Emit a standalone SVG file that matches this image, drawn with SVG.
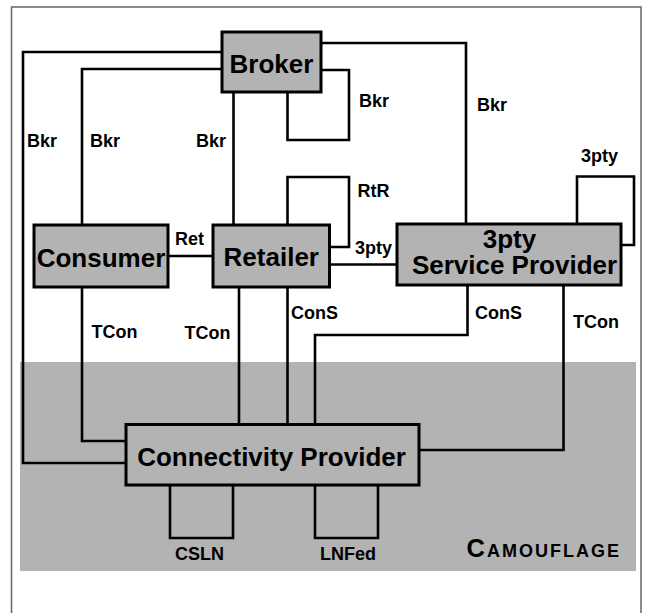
<svg xmlns="http://www.w3.org/2000/svg" width="645" height="613" viewBox="0 0 645 613">
<style>
.frame{fill:none;stroke:#666;stroke-width:1.5}
.band{fill:#b3b3b3}
.box{fill:#b3b3b3;stroke:#000;stroke-width:3}
.ln{fill:none;stroke:#000;stroke-width:2.6;stroke-linejoin:miter}
.nt{font-family:"Liberation Sans",Arial,sans-serif;font-weight:bold;font-size:26px;fill:#000;text-anchor:middle}
.lb{font-family:"Liberation Sans",Arial,sans-serif;font-weight:bold;font-size:18px;fill:#000}
</style>
<rect class="frame" x="11.5" y="7" width="629.5" height="620"/>
<rect class="band" x="20" y="362" width="616" height="209"/>
<g id="connectors">
<path class="ln" d="M222,52 H23 V463 H126"/>
<path class="ln" d="M222,69 H82 V225"/>
<path class="ln" d="M233.5,92 V225"/>
<path class="ln" d="M321,70 H349 V140 H287.5 V92"/>
<path class="ln" d="M321,43 H466 V224"/>
<path class="ln" d="M287.5,225 V177 H349 V247 H329.5"/>
<path class="ln" d="M577,224 V176.5 H634 V245 H621"/>
<path class="ln" d="M168,256 H213"/>
<path class="ln" d="M329.5,264.5 H397"/>
<path class="ln" d="M82,287 V441 H126"/>
<path class="ln" d="M239,287 V424.5"/>
<path class="ln" d="M287.5,287 V424.5"/>
<path class="ln" d="M467.5,285 V335 H315 V424.5"/>
<path class="ln" d="M563.5,285 V450 H419"/>
<path class="ln" d="M170,485 V538 H233 V485"/>
<path class="ln" d="M315,485 V538 H378 V485"/>
</g>
<g id="labels">
<text class="lb" x="27" y="146.5">Bkr</text>
<text class="lb" x="90" y="146.5">Bkr</text>
<text class="lb" x="196" y="146.5">Bkr</text>
<text class="lb" x="359" y="107">Bkr</text>
<text class="lb" x="477" y="111">Bkr</text>
<text class="lb" x="581" y="162">3pty</text>
<text class="lb" x="357.5" y="197">RtR</text>
<text class="lb" x="175" y="245">Ret</text>
<text class="lb" x="355" y="254">3pty</text>
<text class="lb" x="91.5" y="338">TCon</text>
<text class="lb" x="184.5" y="339">TCon</text>
<text class="lb" x="291" y="319">ConS</text>
<text class="lb" x="475" y="319">ConS</text>
<text class="lb" x="573" y="328">TCon</text>
<text class="lb" x="175" y="559.5">CSLN</text>
<text class="lb" x="320" y="559.5">LNFed</text>
<text class="lb" x="466.5" y="556.7" letter-spacing="2"><tspan font-size="25.5px">C</tspan>AMOUFLAGE</text>
</g>
<g id="broker">
<rect class="box" x="222" y="32" width="99" height="60"/>
<text class="nt" x="271.5" y="73" font-size="25px">Broker</text>
</g>
<g id="consumer">
<rect class="box" x="34" y="225" width="134" height="62"/>
<text class="nt" x="101" y="266.5">Consumer</text>
</g>
<g id="retailer">
<rect class="box" x="213" y="225" width="116.5" height="62"/>
<text class="nt" x="271.3" y="266">Retailer</text>
</g>
<g id="service-provider">
<rect class="box" x="397" y="224" width="224" height="61"/>
<text class="nt" x="509.5" y="248.3">3pty</text>
<text class="nt" x="514.5" y="274.3">Service Provider</text>
</g>
<g id="connectivity-provider">
<rect class="box" x="126" y="424.5" width="293" height="60.5"/>
<text class="nt" x="271.5" y="466">Connectivity Provider</text>
</g>
</svg>
